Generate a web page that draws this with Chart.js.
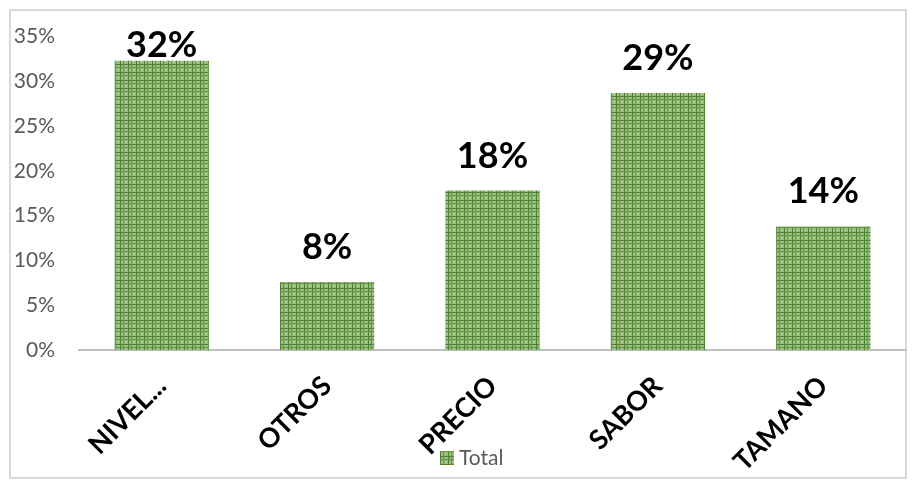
<!DOCTYPE html>
<html>
<head>
<meta charset="utf-8">
<script src="https://cdn.jsdelivr.net/npm/chart.js@4.4.1/dist/chart.umd.min.js"></script>
<style>
  html, body { margin: 0; padding: 0; background: #ffffff; }
  #wrap { width: 916px; height: 488px; position: relative; }
</style>
</head>
<body>
<div id="wrap"><canvas id="chart" width="916" height="488"></canvas></div>
<script>
// Share of responses per reason (percent)
const categories = ['NIVEL...', 'OTROS', 'PRECIO', 'SABOR', 'TAMANO'];
const totalValues = [32.3, 7.6, 17.8, 28.7, 13.8];
const seriesName = 'Total';
const yTickValues = [0, 5, 10, 15, 20, 25, 30, 35];

const canvas = document.getElementById('chart');
const ctx = canvas.getContext('2d');

// Green plaid fill used for the bars and the legend swatch
function makePlaid() {
  const t = document.createElement('canvas');
  t.width = 8; t.height = 8;
  const g = t.getContext('2d');
  g.fillStyle = '#96bb7c'; g.fillRect(0, 0, 8, 8);
  g.fillStyle = '#4a7f2c'; g.fillRect(0, 0, 1, 8); g.fillRect(0, 0, 8, 1);
  g.fillStyle = '#659849'; g.fillRect(3, 0, 1, 8); g.fillRect(0, 3, 8, 1);
  g.fillStyle = '#bcd4a8';
  g.fillRect(5, 5, 1, 1); g.fillRect(6, 6, 1, 1); g.fillRect(1, 6, 1, 1); g.fillRect(6, 1, 1, 1);
  return ctx.createPattern(t, 'repeat');
}
const plaid = makePlaid();

// Light frame around the whole chart
const frame = {
  id: 'frame',
  beforeDraw(chart) {
    const c = chart.ctx;
    c.save();
    c.fillStyle = '#ffffff';
    c.fillRect(0, 0, chart.width, chart.height);
    c.strokeStyle = '#d9d9d9';
    c.lineWidth = 2;
    c.strokeRect(10, 10, 896, 468);
    c.restore();
  }
};

// Bold percentage above each bar, kept inside the plot area
const valueLabels = {
  id: 'valueLabels',
  afterDatasetsDraw(chart) {
    const c = chart.ctx;
    const meta = chart.getDatasetMeta(0);
    const data = chart.data.datasets[0].data;
    c.save();
    c.font = 'bold 36px Lato';
    c.fillStyle = '#000000';
    c.textAlign = 'center';
    c.textBaseline = 'alphabetic';
    meta.data.forEach((bar, i) => {
      const y = Math.max(bar.y - 23, chart.chartArea.top + 20);
      c.fillText(Math.round(data[i]) + '%', bar.x, y);
    });
    c.restore();
  }
};

// Series key under the plot, overlapping the category label band
const seriesKey = {
  id: 'seriesKey',
  afterDraw(chart) {
    const c = chart.ctx;
    const ds = chart.data.datasets[0];
    const boxX = 440, boxY = 451, box = 14;
    c.save();
    c.fillStyle = ds.backgroundColor;
    c.fillRect(boxX, boxY, box, box);
    c.font = '21px Lato';
    c.fillStyle = '#595959';
    c.textAlign = 'left';
    c.textBaseline = 'middle';
    c.fillText(ds.label, boxX + box + 5, boxY + box / 2);
    c.restore();
  }
};

const PLOT_BOTTOM = 350;

new Chart(ctx, {
  type: 'bar',
  data: {
    labels: categories,
    datasets: [{
      label: seriesName,
      data: totalValues,
      backgroundColor: plaid,
      borderWidth: 0,
      barPercentage: 0.57,
      categoryPercentage: 1.0
    }]
  },
  options: {
    responsive: false,
    animation: false,
    devicePixelRatio: 1,
    layout: { padding: { left: 0, right: 10, top: 35, bottom: 0 } },
    plugins: {
      legend: { display: false },
      tooltip: { enabled: false }
    },
    scales: {
      x: {
        grid: { display: false, drawTicks: false },
        border: { display: true, color: '#bfbfbf', width: 2 },
        ticks: {
          autoSkip: false,
          maxRotation: 45,
          minRotation: 45,
          padding: 20,
          color: '#000000',
          font: { family: 'Lato', size: 27, weight: 'bold' }
        },
        afterFit(scale) {
          scale.height = scale.chart.height - PLOT_BOTTOM;
        }
      },
      y: {
        min: 0,
        max: 35,
        grid: { display: false, drawTicks: false },
        border: { display: false },
        afterBuildTicks(scale) {
          scale.ticks = yTickValues.map(v => ({ value: v }));
        },
        ticks: {
          padding: 24,
          color: '#595959',
          font: { family: 'Lato', size: 21 },
          callback: v => v + '%'
        },
        afterFit(scale) {
          scale.width = 79;
        }
      }
    }
  },
  plugins: [frame, valueLabels, seriesKey]
});
</script>
</body>
</html>
